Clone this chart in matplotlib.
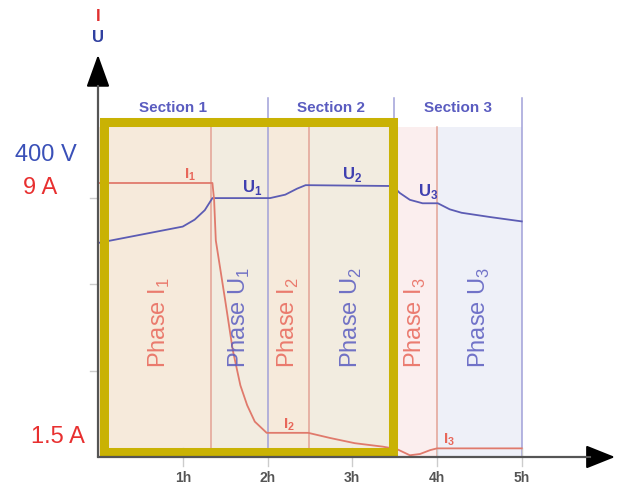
import matplotlib.pyplot as plt

plt.rcParams["mathtext.fontset"] = "custom"
plt.rcParams["mathtext.rm"] = "Liberation Sans"
plt.rcParams["mathtext.bf"] = "Liberation Sans:bold"

# --- Curve data (x in hours, y in chart units) ---
u_hours = [0.0, 1.0, 1.14, 1.26, 1.35, 2.03, 2.21, 2.35, 2.45, 3.48, 3.56, 3.68, 3.83, 4.01, 4.15, 4.29, 4.63, 5.0]
u_vals  = [2.48, 2.67, 2.75, 2.86, 3.0, 3.0, 3.04, 3.11, 3.15, 3.14, 3.06, 2.98, 2.94, 2.94, 2.87, 2.83, 2.78, 2.73]

i_hours = [0.0, 1.35, 1.37, 1.39, 1.5, 1.59, 1.68, 1.76, 1.85, 1.99, 2.48, 2.74, 3.03, 3.36, 3.53, 3.68, 3.8, 3.92, 4.0, 5.0]
i_vals  = [3.175, 3.175, 2.98, 2.51, 1.82, 1.24, 0.83, 0.60, 0.41, 0.28, 0.28, 0.22, 0.16, 0.12, 0.09, 0.02, 0.035, 0.08, 0.10, 0.10]

# --- Phases / sections ---
phase_names  = [r"Phase I$_\mathregular{1}$", r"Phase U$_\mathregular{1}$", r"Phase I$_\mathregular{2}$",
                r"Phase U$_\mathregular{2}$", r"Phase I$_\mathregular{3}$", r"Phase U$_\mathregular{3}$"]
phase_edges  = [0.0, 1.33, 2.01, 2.49, 3.49, 4.0, 5.0]
phase_kind   = ["I", "U", "I", "U", "I", "U"]
phase_bg     = ["#f6eadb", "#f2ece0", "#f6eadb", "#f2ece0", "#fbeeee", "#eef0f8"]
phase_lines  = [1.33, 2.49, 4.0]
section_lines = [2.01, 3.49, 5.0]
section_names = ["Section 1", "Section 2", "Section 3"]
section_bounds = [0.0, 2.01, 3.49, 5.0]

hour_ticks  = [1, 2, 3, 4, 5]
hour_labels = ["1h", "2h", "3h", "4h", "5h"]

RED = "#e8675a"
BLUE = "#5a5cc0"
SANS = ["Liberation Sans", "DejaVu Sans"]

fig = plt.figure(figsize=(6.17, 4.86), dpi=100)
ax = fig.add_axes([0, 0, 1, 1])
ax.set_xlim(-98 / 84.75, (617 - 98) / 84.75)
ax.set_ylim(-29 / 86.3, 457 / 86.3)
ax.axis("off")

shade_top = 3.82

# --- background shading per phase ---
for k in range(len(phase_names)):
    ax.fill_between([phase_edges[k], phase_edges[k + 1]], 0, shade_top,
                    color=phase_bg[k], lw=0, zorder=0)

# --- vertical lines ---
for x in phase_lines:
    ax.plot([x, x], [0, shade_top], color="#e3a295", lw=1.1, zorder=1)
for x in section_lines:
    ax.plot([x, x], [0, 4.16], color="#a0a0d8", lw=1.1, zorder=1)

# --- curves ---
ax.plot(u_hours, u_vals, color="#5c5cb4", lw=1.3, zorder=2)
ax.plot(i_hours, i_vals, color="#e07a6c", lw=1.3, zorder=2)

# --- yellow frame ---
ax.add_patch(plt.Rectangle((0.07, 0.06), 3.48 - 0.07, 3.88 - 0.06,
                           fill=False, ec="#c9b204", lw=6.5, zorder=3))

# --- phase labels ---
for k, name in enumerate(phase_names):
    xc = (phase_edges[k] + phase_edges[k + 1]) / 2
    if k == 0:
        xc = 0.72
    col = RED if phase_kind[k] == "I" else BLUE
    ax.text(xc, 1.03, name, rotation=90, ha="center", va="bottom",
            color=col, fontsize=17, family=SANS, alpha=0.85, zorder=4)

# --- section labels ---
for k, name in enumerate(section_names):
    xc = (section_bounds[k] + section_bounds[k + 1]) / 2 + (0.0 if k else -0.12)
    ax.text(xc, 4.04, name, ha="center", va="center", color=BLUE,
            fontsize=11, fontweight="bold", family=SANS, zorder=4)

# --- curve annotations ---
ann = dict(ha="center", va="center", fontweight="bold", family=SANS, zorder=4)
ax.text(1.085, 3.27, r"I$_\mathregular{1}$", color=RED, fontsize=11, **ann)
ax.text(1.82, 3.12, r"U$_\mathregular{1}$", color="#4040b0", fontsize=12, **ann)
ax.text(3.0, 3.27, r"U$_\mathregular{2}$", color="#4040b0", fontsize=12, **ann)
ax.text(3.9, 3.08, r"U$_\mathregular{3}$", color="#4040b0", fontsize=12, **ann)
ax.text(2.25, 0.38, r"I$_\mathregular{2}$", color=RED, fontsize=11, **ann)
ax.text(4.14, 0.20, r"I$_\mathregular{3}$", color=RED, fontsize=11, **ann)

# --- axes with arrows ---
ax.annotate("", xy=(0, 4.66), xytext=(0, 0),
            arrowprops=dict(arrowstyle="-|>,head_length=1.0,head_width=0.36",
                            mutation_scale=20, color="black", lw=1.5,
                            shrinkA=0, shrinkB=0), zorder=5)
ax.plot([0, 0], [0, 4.3], color="#555555", lw=1.5, zorder=5)
ax.annotate("", xy=(6.1, 0), xytext=(0, 0),
            arrowprops=dict(arrowstyle="-|>,head_length=0.9,head_width=0.36",
                            mutation_scale=20, color="black", lw=1.5,
                            shrinkA=0, shrinkB=0), zorder=5)
ax.plot([0, 5.8], [0, 0], color="#555555", lw=1.5, zorder=5)

# ticks
for h, lab in zip(hour_ticks, hour_labels):
    ax.plot([h, h], [-0.1, 0.1], color="#cccccc", lw=1, zorder=1)
    ax.text(h, -0.245, lab, ha="center", va="center", color="#555555",
            fontsize=10, fontweight="bold", family=SANS)
for y in [1, 2, 3]:
    ax.plot([-0.1, 0], [y, y], color="#cccccc", lw=1, zorder=1)

# --- y-axis labels ---
ax.text(0, 5.1, "I", color="#e03030", ha="center", va="center", fontsize=12, fontweight="bold", family=SANS)
ax.text(0, 4.86, "U", color="#3040a0", ha="center", va="center", fontsize=12, fontweight="bold", family=SANS)
ax.text(-0.62, 3.5, "400 V", color="#3a50b8", ha="center", va="center", fontsize=17, family=SANS)
ax.text(-0.68, 3.12, "9 A", color="#e83030", ha="center", va="center", fontsize=17, family=SANS)
ax.text(-0.47, 0.23, "1.5 A", color="#e83030", ha="center", va="center", fontsize=17, family=SANS)

fig.savefig("out.png", dpi=100)
